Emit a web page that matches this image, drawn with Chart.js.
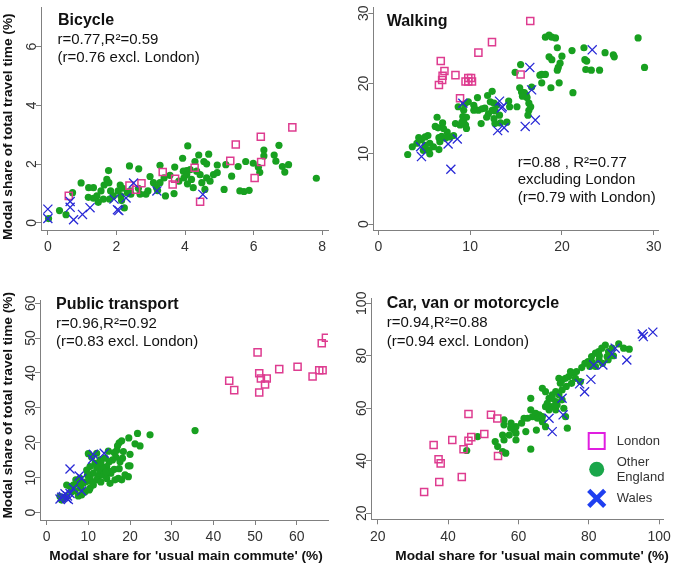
<!DOCTYPE html>
<html>
<head>
<meta charset="utf-8">
<script src="https://cdn.jsdelivr.net/npm/chart.js@4.4.1/dist/chart.umd.min.js"></script>
<style>
    body { margin: 0; background: #fff; }
    #wrap { position: relative; width: 675px; height: 566px; }
    #wrap canvas { position: absolute; }
</style>
</head>
<body>
<div id="wrap">
    <canvas id="bike" width="337" height="283" style="left:0;top:0;width:337px;height:283px"></canvas>
    <canvas id="walk" width="338" height="283" style="left:337px;top:0;width:338px;height:283px"></canvas>
    <canvas id="pt" width="337" height="283" style="left:0;top:283px;width:337px;height:283px"></canvas>
    <canvas id="car" width="338" height="283" style="left:337px;top:283px;width:338px;height:283px"></canvas>
</div>
<script>
// [commute share, travel time share] pairs

// Bicycle
const bikeEngland = [[4.08,2.62],[3.93,2.20],[4.40,2.31],[4.69,2.34],[4.29,2.09],[4.55,2.09],[4.63,2.01],[4.94,1.97],[5.19,1.98],[5.55,1.92],[5.77,2.09],[5.99,2.03],[6.14,1.89],[6.30,2.48],[6.30,2.28],[6.74,2.64],[6.60,2.31],[6.65,2.10],[6.84,1.92],[7.02,1.98],[6.91,1.73],[6.18,1.72],[5.36,1.59],[4.94,1.71],[4.73,1.42],[4.44,1.64],[4.49,1.37],[4.19,1.48],[4.05,1.78],[3.97,1.53],[3.82,1.42],[4.07,1.33],[4.24,1.20],[4.58,1.14],[5.14,1.14],[5.72,1.07],[5.87,1.11],[7.83,1.52],[3.27,1.96],[3.70,1.90],[3.56,1.62],[2.98,1.58],[3.08,1.37],[3.27,1.37],[3.39,1.53],[3.17,1.20],[2.92,1.09],[2.69,0.98],[2.86,0.98],[3.43,0.92],[3.68,1.00],[2.65,1.84],[2.38,1.94],[1.77,1.78],[1.72,1.48],[1.64,1.29],[1.78,1.37],[2.11,1.29],[2.18,1.18],[2.05,1.09],[1.83,1.09],[1.55,1.09],[1.43,0.92],[1.33,0.84],[1.18,0.87],[0.97,1.36],[1.33,1.20],[1.19,1.20],[1.47,0.70],[1.62,0.81],[1.80,0.81],[1.91,0.92],[2.13,0.92],[2.32,1.03],[2.42,0.98],[2.64,1.18],[2.23,0.51],[2.15,0.76],[0.34,0.42],[0.53,0.28],[0.72,1.03],[2.40,1.09],[3.95,1.76],[4.15,1.81],[4.34,1.76],[4.05,1.64],[4.63,1.53],[4.83,1.64],[5.60,1.09],[0.02,0.15],[3.20,1.10]];
const bikeLondon = [[0.61,0.92],[7.13,3.25],[6.21,2.93],[5.48,2.67],[5.32,2.11],[6.22,2.07],[6.03,1.53],[4.28,1.88],[3.35,1.73],[3.71,1.50],[3.64,1.31],[4.44,0.72],[2.73,1.35],[2.38,1.27],[2.57,1.13]];
const bikeWales = [[0,0.47],[0,0.15],[0.65,0.73],[0.65,0.53],[0.75,0.11],[1.01,0.29],[1.23,0.52],[1.93,0.81],[2.03,0.45],[2.07,0.42],[2.28,0.85],[2.50,1.36],[3.18,1.09],[4.52,0.97]];

// Walking
const walkEngland = [[28.3,26.5],[29.0,22.3],[18.2,26.6],[18.6,26.9],[18.9,26.6],[19.3,26.5],[19.5,25.1],[21.1,24.7],[22.4,25.1],[24.7,24.4],[25.6,24.1],[25.7,23.8],[22.5,23.4],[22.7,23.2],[22.6,22.0],[23.2,21.9],[24.1,21.9],[18.6,23.8],[18.9,23.4],[20.0,23.9],[19.8,22.9],[19.6,22.3],[19.5,21.9],[17.8,21.3],[18.2,21.3],[15.5,22.7],[14.9,21.6],[17.8,20.1],[19.7,20.1],[18.8,19.4],[21.2,18.7],[15.4,19.4],[15.6,18.8],[15.9,18.7],[16.2,18.0],[16.4,17.2],[16.6,16.7],[16.4,16.2],[16.3,15.5],[15.1,16.7],[14.2,17.5],[12.4,18.9],[11.9,18.3],[10.8,18.0],[9.8,17.4],[10.4,16.9],[10.5,16.4],[10.9,16.2],[11.3,16.4],[11.6,16.5],[12.2,17.4],[12.6,17.2],[12.9,16.9],[12.0,15.7],[11.8,15.2],[12.6,15.0],[13.2,15.5],[12.7,14.3],[11.2,14.3],[9.3,16.2],[9.2,15.3],[8.7,16.7],[8.4,14.3],[8.9,14.1],[9.3,14.5],[9.6,13.6],[9.5,14.1],[6.4,15.2],[7.0,14.4],[6.2,13.9],[6.5,13.7],[7.1,13.6],[7.5,13.1],[6.6,12.3],[6.9,12.5],[7.3,12.2],[7.8,12.4],[5.6,11.5],[6.0,11.0],[5.5,10.5],[5.6,10.0],[4.4,12.3],[4.7,12.0],[5.1,12.4],[5.4,12.6],[3.7,11.0],[4.2,11.5],[4.9,10.5],[5.1,11.2],[3.2,9.9],[6.7,11.7],[6.6,10.6],[8.2,12.6],[9.4,17.1],[10.4,16.2],[9.1,14.5],[9.6,15.2],[12.4,16.2],[12.7,16.1],[13.3,14.4],[14.0,14.5],[14.3,16.7],[16.7,19.5],[17.6,21.2],[16.1,18.4],[15.7,18.2]];
const walkLondon = [[16.55,28.9],[12.38,25.9],[10.9,24.4],[6.8,23.2],[7.2,21.8],[7.0,21.1],[6.95,20.5],[6.6,19.8],[8.4,21.2],[15.5,21.3],[9.5,20.3],[9.8,20.3],[10.1,20.8],[9.8,20.8],[10.2,20.3],[8.9,17.9]];
const walkWales = [[23.3,24.8],[16.5,22.3],[16.7,19.1],[9.2,17.2],[13.2,17.5],[13.5,16.7],[13.4,16.5],[17.1,14.8],[16.0,13.9],[13.7,13.7],[13.0,13.3],[8.6,12.1],[7.6,11.4],[4.6,11.0],[4.7,9.6],[7.9,7.8]];

// Public transport
const ptEngland = [[35.6,23.5],[24.8,22.3],[21.8,22.7],[19.7,21.4],[21.2,19.7],[22.4,19.1],[20.0,16.7],[20.0,13.4],[18.0,20.6],[17.4,20.0],[17.0,19.1],[18.4,17.5],[16.2,17.2],[16.6,15.9],[15.8,15.1],[15.0,14.6],[17.6,14.6],[18.2,15.6],[19.6,13.4],[14.4,13.2],[13.6,12.2],[12.8,11.3],[12.4,10.3],[15.4,11.3],[16.2,12.4],[17.2,9.8],[18.0,9.4],[16.4,9.4],[10.8,15.9],[10.0,16.9],[11.6,14.1],[10.4,13.2],[9.6,12.2],[11.2,11.3],[12.0,9.4],[10.4,9.8],[9.6,8.9],[8.8,8.4],[11.2,7.9],[10.4,7.0],[8.0,9.8],[7.2,8.4],[6.4,7.9],[5.6,7.5],[4.8,7.9],[8.2,7.0],[9.2,6.0],[8.4,5.1],[7.6,4.8],[6.0,6.0],[4.8,4.6],[4.0,4.1],[3.6,3.6],[3.2,4.6],[12.0,17.0],[12.8,15.1],[14.0,15.6],[13.2,13.2],[14.4,9.8],[15.2,8.4],[13.6,10.8],[15.0,11.8],[19.6,10.3],[18.8,10.8],[17.4,12.6],[16.8,17.8],[14.8,17.6],[13.0,14.4],[12.0,12.8],[9.8,10.8],[11.0,8.6],[7.0,9.4],[6.8,6.3],[13.0,8.8],[14.2,11.6],[10.2,6.5]];
const ptLondon = [[67.0,50.1],[66.0,48.5],[50.6,45.9],[60.2,41.8],[55.8,41.1],[65.4,40.8],[66.2,40.8],[51.0,39.9],[43.8,37.8],[51.4,38.4],[52.8,38.4],[63.8,39.0],[45.0,35.1],[52.4,36.7],[51.0,34.4]];
const ptWales = [[11.2,16.7],[13.8,17.0],[11.0,15.3],[5.6,12.5],[7.8,10.5],[8.4,9.8],[6.4,7.0],[8.4,6.2],[5.6,5.5],[4.0,4.6],[3.2,3.9],[4.8,4.1],[5.2,3.8],[4.4,5.4],[3.6,4.4],[5.0,4.8]];

// Car, van or motorcycle
const carEngland = [[84.7,84.1],[83.7,82.9],[82.8,81.6],[85.6,81.6],[86.6,82.9],[85.2,79.7],[81.9,81.0],[80.8,79.7],[79.8,77.8],[78.9,77.1],[82.9,78.4],[83.9,77.1],[81.9,75.9],[80.3,75.9],[74.8,74.0],[75.8,73.3],[74.3,72.1],[73.4,71.4],[72.4,70.8],[71.5,71.4],[71.9,69.5],[75.1,69.5],[76.2,71.4],[77.6,70.2],[73.6,68.3],[72.4,67.0],[70.6,66.3],[71.5,65.1],[69.6,65.1],[68.7,63.8],[67.7,66.3],[66.8,67.6],[70.6,62.5],[72.4,63.2],[72.9,60.0],[73.4,56.8],[73.9,52.4],[70.6,59.4],[69.6,60.6],[68.2,61.9],[68.7,59.4],[67.7,60.6],[63.5,63.8],[63.5,59.4],[64.9,58.1],[65.9,57.5],[64.0,56.8],[62.6,56.2],[61.6,56.2],[65.4,56.2],[66.8,56.8],[67.7,53.0],[66.8,54.9],[62.1,51.1],[59.3,53.0],[58.8,51.7],[57.8,52.4],[55.9,55.6],[55.9,53.7],[59.3,50.5],[57.4,49.8],[59.3,47.9],[55.5,49.8],[55.9,47.9],[53.4,47.3],[54.1,45.4],[55.5,43.5],[56.4,42.9],[63.5,44.4],[48.4,49.2],[45.3,43.9],[65.1,51.7],[69.6,63.8],[71.0,61.3],[89.9,82.9],[91.5,82.5],[88.5,84.5],[87.0,80.0],[85.5,78.5],[83.0,80.0],[81.0,77.5],[78.0,75.5],[76.5,74.0],[60.9,54.3],[57.9,54.3]];
const carLondon = [[33.2,28.1],[37.5,31.9],[43.9,33.8],[35.9,46.0],[37.3,40.6],[37.9,39.0],[41.2,47.9],[44.4,44.4],[45.8,47.6],[46.6,49.0],[45.8,57.8],[50.3,50.2],[52.2,57.5],[54.0,56.1],[54.2,41.8]];
const carWales = [[98.2,89.0],[95.2,88.3],[95.5,87.3],[87.5,82.9],[86.6,80.7],[84.0,76.5],[81.4,76.5],[90.8,78.4],[80.6,71.0],[77.4,69.3],[78.8,66.3],[72.4,63.8],[72.7,57.5],[68.7,56.2],[69.6,51.1]];

const FONT = '"Liberation Sans", Arial, sans-serif';
const GREEN = '#18a020';
const PINK = '#de3c90';
const BLUE = '#2a2ad6';
const AXIS = '#808080';
const Y_TITLE = 'Modal share of total travel time (%)';
const X_TITLE = "Modal share for 'usual main commute' (%)";

function toPoints(arr) {
    return arr.map(p => ({ x: p[0], y: p[1] }));
}

// Draws rotated y tick labels, panel notes, axis titles and the legend
function decorPlugin(o) {
    return {
        id: 'decor',
        afterDraw(chart) {
            const c = chart.ctx;
            const ys = chart.scales.y;
            const left = chart.chartArea.left;
            c.save();

            // y tick labels, rotated like the original
            c.fillStyle = '#333';
            c.font = '14px ' + FONT;
            c.textAlign = 'center';
            c.textBaseline = 'alphabetic';
            ys.ticks.forEach(t => {
                const py = ys.getPixelForValue(t.value);
                c.save();
                c.translate(left - 5.5, py);
                c.rotate(-Math.PI / 2);
                c.fillText(String(t.value), 0, 0);
                c.restore();
            });

            // panel notes
            c.fillStyle = '#111';
            c.textAlign = 'left';
            o.notes.forEach(n => {
                c.font = (n.bold ? 'bold 16px ' : '15px ') + FONT;
                c.fillText(n.text, n.x, n.y);
            });

            // axis titles
            c.font = 'bold 13.7px ' + FONT;
            c.textAlign = 'center';
            c.textBaseline = 'middle';
            if (o.yTitle) {
                c.save();
                c.translate(o.yTitle.x, o.yTitle.y);
                c.rotate(-Math.PI / 2);
                c.fillText(Y_TITLE, 0, 0);
                c.restore();
            }
            if (o.xTitle) {
                c.fillText(X_TITLE, o.xTitle.x, o.xTitle.y);
            }

            // legend
            if (o.legend) {
                const L = o.legend;
                c.lineWidth = 2;
                c.strokeStyle = '#e01ee0';
                c.strokeRect(L.x - 8, L.y[0] - 8, 16, 16);

                c.fillStyle = '#1aa64a';
                c.beginPath();
                c.arc(L.x, L.y[1], 7.5, 0, 2 * Math.PI);
                c.fill();

                c.strokeStyle = '#1f3ff0';
                c.lineWidth = 4.5;
                c.beginPath();
                c.moveTo(L.x - 8, L.y[2] - 8);
                c.lineTo(L.x + 8, L.y[2] + 8);
                c.moveTo(L.x + 8, L.y[2] - 8);
                c.lineTo(L.x - 8, L.y[2] + 8);
                c.stroke();

                c.fillStyle = '#333';
                c.font = '13px ' + FONT;
                c.textAlign = 'left';
                c.fillText('London', L.tx, L.y[0]);
                c.fillText('Other', L.tx, L.y[1] - 6.6);
                c.fillText('England', L.tx, L.y[1] + 8);
                c.fillText('Wales', L.tx, L.y[2]);
            }
            c.restore();
        }
    };
}

function buildPanel(id, o) {
    return new Chart(document.getElementById(id), {
        type: 'scatter',
        data: {
            datasets: [
                {
                    label: 'Other England',
                    data: toPoints(o.england),
                    pointStyle: 'circle',
                    pointRadius: 3.6,
                    backgroundColor: GREEN,
                    borderColor: GREEN,
                    borderWidth: 0,
                    order: 3
                },
                {
                    label: 'London',
                    data: toPoints(o.london),
                    pointStyle: 'rect',
                    pointRadius: 5,
                    backgroundColor: 'rgba(0,0,0,0)',
                    borderColor: PINK,
                    borderWidth: 1.5,
                    order: 2
                },
                {
                    label: 'Wales',
                    data: toPoints(o.wales),
                    pointStyle: 'crossRot',
                    pointRadius: 6.4,
                    borderColor: BLUE,
                    borderWidth: 1.3,
                    order: 1
                }
            ]
        },
        options: {
            responsive: false,
            animation: false,
            events: [],
            layout: { padding: o.pad },
            plugins: {
                legend: { display: false },
                tooltip: { enabled: false }
            },
            scales: {
                x: {
                    type: 'linear',
                    min: o.x[0],
                    max: o.x[1],
                    afterFit: s => { s.height = o.xH; },
                    ticks: {
                        stepSize: o.x[2],
                        includeBounds: false,
                        maxRotation: 0,
                        padding: 4,
                        color: '#333',
                        font: { family: FONT, size: 14 }
                    },
                    grid: { drawOnChartArea: false, tickLength: 5, color: AXIS },
                    border: { color: AXIS }
                },
                y: {
                    type: 'linear',
                    min: o.y[0],
                    max: o.y[1],
                    afterFit: s => { s.width = o.yW; },
                    ticks: { stepSize: o.y[2], includeBounds: false, display: false },
                    grid: { drawOnChartArea: false, tickLength: 5, color: AXIS },
                    border: { color: AXIS }
                }
            }
        },
        plugins: [decorPlugin(o)]
    });
}

buildPanel('bike', {
    england: bikeEngland, london: bikeLondon, wales: bikeWales,
    pad: { left: 0, top: 3, right: 9, bottom: 0 }, yW: 41, xH: 53,
    x: [-0.2, 8.17, 2], y: [-0.24, 7.32, 2],
    notes: [
        { text: 'Bicycle', x: 58, y: 24.5, bold: true },
        { text: 'r=0.77,R²=0.59', x: 57.5, y: 43.5 },
        { text: '(r=0.76 excl. London)', x: 57.5, y: 61.5 }
    ],
    yTitle: { x: 8.5, y: 126.7 }
});

buildPanel('walk', {
    england: walkEngland, london: walkLondon, wales: walkWales,
    pad: { left: 0, top: 7, right: 16.7, bottom: 0 }, yW: 36.3, xH: 53,
    x: [-0.55, 30.5, 10], y: [-0.85, 30.8, 10],
    notes: [
        { text: 'Walking', x: 49.7, y: 25.7, bold: true },
        { text: 'r=0.88 , R²=0.77', x: 180.7, y: 166.7 },
        { text: 'excluding London', x: 180.7, y: 184.3 },
        { text: '(r=0.79 with London)', x: 180.7, y: 201.7 }
    ]
});

buildPanel('pt', {
    england: ptEngland, london: ptLondon, wales: ptWales,
    pad: { left: 0, top: 17, right: 9, bottom: 0 }, yW: 40, xH: 46,
    x: [-1.6, 67.5, 10], y: [-2.1, 60.9, 10],
    notes: [
        { text: 'Public transport', x: 56, y: 26, bold: true },
        { text: 'r=0.96,R²=0.92', x: 56, y: 44.7 },
        { text: '(r=0.83 excl. London)', x: 56, y: 62.7 }
    ],
    yTitle: { x: 8.5, y: 122.3 },
    xTitle: { x: 186, y: 273 }
});

buildPanel('car', {
    england: carEngland, london: carLondon, wales: carWales,
    pad: { left: 0, top: 15, right: 10, bottom: 0 }, yW: 34, xH: 46.7,
    x: [18.1, 101.2, 20], y: [17.7, 102, 20],
    notes: [
        { text: 'Car, van or motorcycle', x: 49.7, y: 25.3, bold: true },
        { text: 'r=0.94,R²=0.88', x: 49.7, y: 44.3 },
        { text: '(r=0.94 excl. London)', x: 49.7, y: 62.7 }
    ],
    xTitle: { x: 195, y: 273 },
    legend: { x: 259.7, y: [158, 186.3, 215.3], tx: 279.7 }
});
</script>
</body>
</html>
